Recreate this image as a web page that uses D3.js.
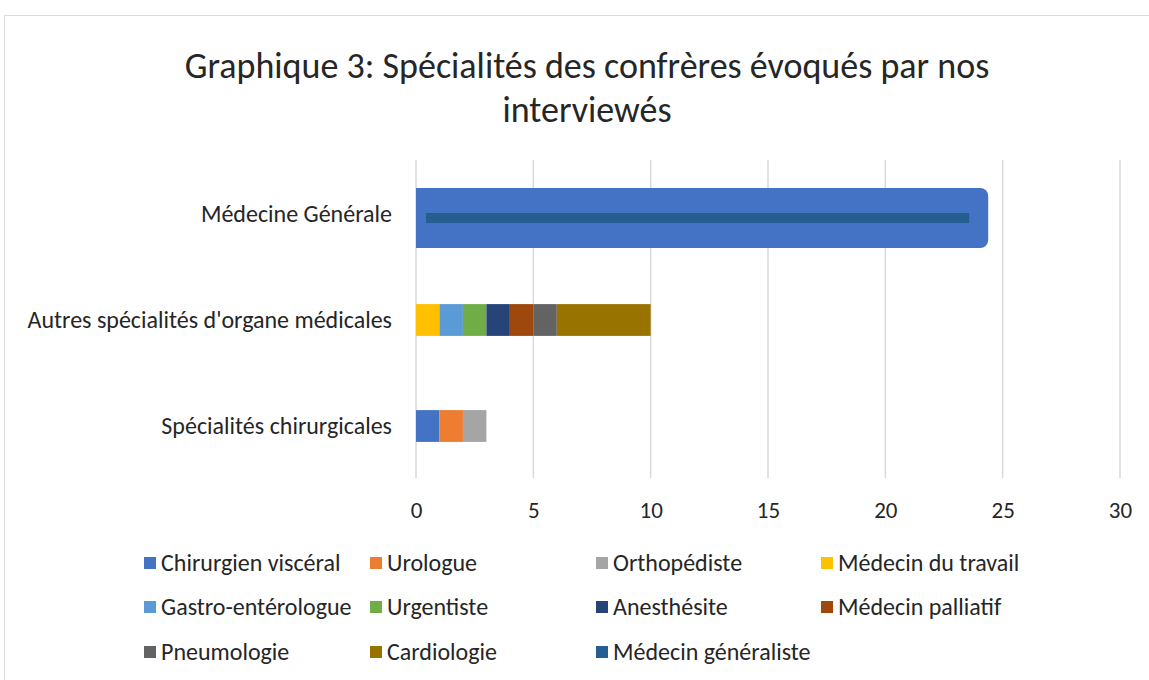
<!DOCTYPE html>
<html>
<head>
<meta charset="utf-8">
<script src="https://cdn.jsdelivr.net/npm/d3@7"></script>
<style>
  body { margin: 0; background: #fff; }
  svg { display: block; font-family: Carlito, Calibri, "Open Sans", "Liberation Sans", sans-serif; }
</style>
</head>
<body>
<div id="chart"></div>
<script>
(function() {
  var width = 1149,
      height = 680;

  var categories = ["Médecine Générale", "Autres spécialités d'organe médicales", "Spécialités chirurgicales"];

  var seriesNames = ["Chirurgien viscéral", "Urologue", "Orthopédiste", "Médecin du travail",
                     "Gastro-entérologue", "Urgentiste", "Anesthésite", "Médecin palliatif",
                     "Pneumologie", "Cardiologie", "Médecin généraliste"];

  var seriesColors = ["#4472C4", "#ED7D31", "#A5A5A5", "#FFC000",
                      "#5B9BD5", "#70AD47", "#264478", "#9E480E",
                      "#636363", "#997300", "#255E91"];

  // values per series, in the order of categories
  var chirurgienVisceral = [0, 0, 1];
  var urologue           = [0, 0, 1];
  var orthopediste       = [0, 0, 1];
  var medecinTravail     = [0, 1, 0];
  var gastro             = [0, 1, 0];
  var urgentiste         = [0, 1, 0];
  var anesthesite        = [0, 1, 0];
  var palliatif          = [0, 1, 0];
  var pneumologie        = [0, 1, 0];
  var cardiologie        = [0, 4, 0];
  var generaliste        = [24, 0, 0];

  var seriesValues = [chirurgienVisceral, urologue, orthopediste, medecinTravail,
                      gastro, urgentiste, anesthesite, palliatif,
                      pneumologie, cardiologie, generaliste];

  var xTicks = [0, 5, 10, 15, 20, 25, 30];

  var svg = d3.select("#chart").append("svg")
      .attr("width", width)
      .attr("height", height);

  // chart border
  svg.append("path")
      .attr("d", "M4.5,690 L4.5,15.5 L1160,15.5")
      .attr("fill", "none")
      .attr("stroke", "#d9d9d9")
      .attr("stroke-width", 1);

  // title
  var title = svg.append("text")
      .attr("text-anchor", "middle")
      .attr("font-size", 36)
      .attr("fill", "#262626");
  title.append("tspan").attr("x", 587).attr("y", 78).text("Graphique 3: Spécialités des confrères évoqués par nos");
  title.append("tspan").attr("x", 587).attr("y", 122).text("interviewés");

  var x = d3.scaleLinear().domain([0, 30]).range([416, 1120]);
  var y = d3.scaleBand().domain(categories).range([161, 479]).paddingInner(0.7).paddingOuter(0.35);

  // gridlines
  svg.append("g").selectAll("line")
      .data(xTicks)
      .enter().append("line")
      .attr("x1", function(d) { return x(d); })
      .attr("x2", function(d) { return x(d); })
      .attr("y1", 160)
      .attr("y2", 478)
      .attr("stroke", "#d9d9d9")
      .attr("stroke-width", 1.5);

  // x axis labels
  var xAxis = svg.append("g")
      .attr("transform", "translate(0,478)")
      .call(d3.axisBottom(x).tickValues(xTicks).tickSize(0).tickPadding(24));
  xAxis.attr("font-family", null).attr("font-size", null);
  xAxis.select(".domain").remove();
  xAxis.selectAll("text")
      .attr("font-size", 23)
      .attr("fill", "#262626");

  // y axis labels
  var yAxis = svg.append("g")
      .attr("transform", "translate(416,0)")
      .call(d3.axisLeft(y).tickSize(0).tickPadding(24));
  yAxis.attr("font-family", null).attr("font-size", null);
  yAxis.select(".domain").remove();
  yAxis.selectAll("text")
      .attr("font-size", 24)
      .attr("fill", "#262626");

  // stack the data
  var rows = categories.map(function(c, i) {
    var r = {category: c};
    seriesNames.forEach(function(s, j) { r[s] = seriesValues[j][i]; });
    return r;
  });
  var stacked = d3.stack().keys(seriesNames)(rows);

  var bars = svg.append("g");
  stacked.forEach(function(layer, j) {
    layer.forEach(function(d) {
      if (d[1] - d[0] <= 0) return;
      var cat = d.data.category;
      if (seriesNames[j] === "Médecin généraliste") {
        // thick blue outline around a thin dark bar, as in the original
        var x0 = x(d[0]), x1 = x(d[1]);
        var cy = y(cat) + y.bandwidth() / 2 + 4;
        bars.append("rect")
            .attr("x", x0)
            .attr("y", cy - 30)
            .attr("width", x1 - x0 + 9)
            .attr("height", 60)
            .attr("rx", 8)
            .attr("fill", "#4472C4");
        bars.append("rect")
            .attr("x", x0)
            .attr("y", cy - 30)
            .attr("width", 20)
            .attr("height", 60)
            .attr("fill", "#4472C4");
        bars.append("rect")
            .attr("x", x0 + 10)
            .attr("y", cy - 5)
            .attr("width", x1 - x0 - 20)
            .attr("height", 10)
            .attr("fill", seriesColors[j]);
      } else {
        bars.append("rect")
            .attr("x", x(d[0]))
            .attr("y", y(cat))
            .attr("width", x(d[1]) - x(d[0]))
            .attr("height", y.bandwidth())
            .attr("fill", seriesColors[j]);
      }
    });
  });

  // legend
  var legendCols = [144, 370, 596, 821],
      legendRows = [563, 607, 652];
  var legend = svg.append("g").selectAll("g")
      .data(seriesNames)
      .enter().append("g")
      .attr("transform", function(d, i) {
        return "translate(" + legendCols[i % 4] + "," + legendRows[Math.floor(i / 4)] + ")";
      });
  legend.append("rect")
      .attr("x", 0).attr("y", -6)
      .attr("width", 12).attr("height", 12)
      .attr("fill", function(d, i) { return seriesColors[i]; });
  legend.append("text")
      .attr("x", 17)
      .attr("y", 0)
      .attr("dy", "0.35em")
      .attr("font-size", 24)
      .attr("fill", "#262626")
      .text(function(d) { return d; });
})();
</script>
</body>
</html>
